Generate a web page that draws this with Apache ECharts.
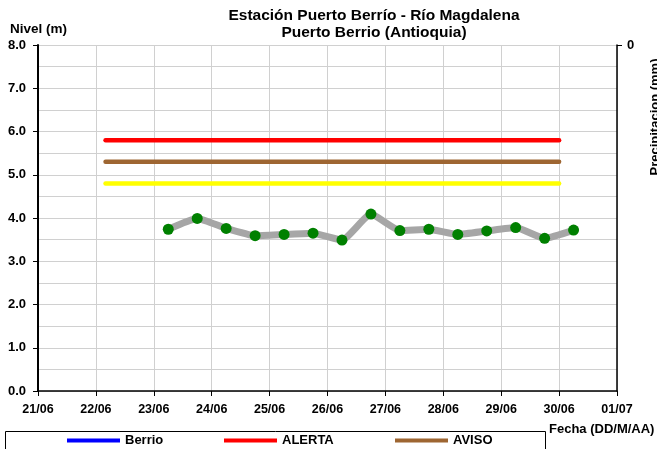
<!DOCTYPE html>
<html>
<head>
<meta charset="utf-8">
<script src="https://cdn.jsdelivr.net/npm/echarts@6/dist/echarts.min.js"></script>
<style>
html,body{margin:0;padding:0;background:#fff;}
#chart{width:657px;height:449px;}
</style>
</head>
<body>
<div id="chart"></div>
<script>
// ---- Data ----
const tickLabels = ['21/06','22/06','23/06','24/06','25/06','26/06','27/06','28/06','29/06','30/06','01/07'];
const times = ['23/06 06:00','23/06 18:00','24/06 06:00','24/06 18:00','25/06 06:00','25/06 18:00',
  '26/06 06:00','26/06 18:00','27/06 06:00','27/06 18:00','28/06 06:00','28/06 18:00',
  '29/06 06:00','29/06 18:00','30/06 06:00'];
const nivel = [3.74,3.99,3.76,3.59,3.62,3.65,3.49,4.09,3.71,3.74,3.62,3.70,3.78,3.53,3.72];
const thresholdSpan = ['22/06 04:00','30/06 00:00'];
const alerta = [5.8, 5.8];
const aviso = [5.3, 5.3];
const umbral = [4.8, 4.8];

// day offset from 21/06 00:00
function toDay(s){
  const [d,t] = s.split(' ');
  const [dd,mm] = d.split('/').map(Number);
  const [h,mi] = t.split(':').map(Number);
  const base = mm === 6 ? dd - 21 : dd + 30 - 21;
  return base + (h + mi/60)/24;
}
const FONT = 'Liberation Sans, Arial, sans-serif';
const nivelData = times.map((t,i)=>[toDay(t), nivel[i]]);
const span = thresholdSpan.map(toDay);
const mk = arr => span.map((x,i)=>[x, arr[i]]);

const chart = echarts.init(document.getElementById('chart'), null, {renderer:'canvas'});
const grid = '#d0d0d0';
const lineSeries = (name, data, color) => ({
  name, type:'line', data, symbol:'none', silent:true,
  lineStyle:{color, width:4.5, cap:'round'}, itemStyle:{color}, z:2
});
const legendBase = {
  top:434, itemWidth:53, itemHeight:4, padding:0, itemGap:5,
  textStyle:{fontFamily:FONT, fontWeight:'bold', fontSize:13, color:'#000'},
  selectedMode:false
};
chart.setOption({
  animation:false,
  backgroundColor:'#fff',
  grid:{left:38, right:40, top:45, bottom:58},
  xAxis:{
    type:'value', min:0, max:10, interval:1,
    axisLine:{show:true, lineStyle:{color:'#000', width:1.5}},
    axisTick:{show:true, length:5, lineStyle:{color:'#000'}},
    axisLabel:{formatter:v=>tickLabels[Math.round(v)], fontFamily:FONT, fontWeight:'bold', fontSize:12.5, color:'#000', margin:12},
    splitLine:{show:true, lineStyle:{color:grid, width:1}}
  },
  yAxis:[{
    type:'value', min:0, max:8, interval:1, splitNumber:8,
    axisLine:{show:true, lineStyle:{color:'#000', width:2}},
    axisTick:{show:true, length:5, lineStyle:{color:'#000'}},
    axisLabel:{formatter:v=>v.toFixed(1), fontFamily:FONT, fontWeight:'bold', fontSize:13, color:'#000', margin:12},
    splitLine:{show:true, lineStyle:{color:grid, width:1}},
    minorTick:{show:false, splitNumber:2},
    minorSplitLine:{show:true, lineStyle:{color:grid, width:1}}
  },{
    type:'value', position:'right', min:0, max:1, interval:1, inverse:true,
    axisLine:{show:true, lineStyle:{color:'#000', width:1.5}},
    axisTick:{show:true, length:5, customValues:[0], lineStyle:{color:'#000'}},
    axisLabel:{customValues:[0], formatter:v=>String(v), fontFamily:FONT, fontWeight:'bold', fontSize:13, color:'#000', margin:10},
    splitLine:{show:false}
  }],
  legend:[
    Object.assign({}, legendBase, {left:67, data:[{name:'Berrio', icon:'rect', itemStyle:{color:'#0000FF'}, lineStyle:{color:'#0000FF'}}]}),
    Object.assign({}, legendBase, {left:224, data:[{name:'ALERTA', icon:'rect', itemStyle:{color:'#FF0000'}}]}),
    Object.assign({}, legendBase, {left:395, data:[{name:'AVISO', icon:'rect', itemStyle:{color:'#9E6632'}}]})
  ],
  series:[
    lineSeries('ALERTA', mk(alerta), '#FF0000'),
    lineSeries('AVISO', mk(aviso), '#9E6632'),
    lineSeries('Umbral', mk(umbral), '#FFFF00'),
    {
      name:'Berrio', type:'line', data:nivelData, z:3, smooth:0.15,
      symbol:'circle', symbolSize:11,
      lineStyle:{color:'#A6A6A6', width:7},
      itemStyle:{color:'#008000'}
    }
  ],
  graphic:[
    {type:'text', x:374, y:16, style:{text:'Estación Puerto Berrío - Río Magdalena', font:'bold 15.5px '+FONT, fill:'#000', textAlign:'center', textVerticalAlign:'middle'}},
    {type:'text', x:374, y:33, style:{text:'Puerto Berrio (Antioquia)', font:'bold 15.5px '+FONT, fill:'#000', textAlign:'center', textVerticalAlign:'middle'}},
    {type:'text', x:10, y:29, style:{text:'Nivel (m)', font:'bold 13.5px '+FONT, fill:'#000', textAlign:'left', textVerticalAlign:'middle'}},
    {type:'text', x:549, y:429, style:{text:'Fecha (DD/M/AA)', font:'bold 13px '+FONT, fill:'#000', textAlign:'left', textVerticalAlign:'middle'}},
    {type:'text', x:655, y:117, rotation:Math.PI/2, style:{text:'Precipitacion (mm)', font:'bold 13px '+FONT, fill:'#000', textAlign:'center', textVerticalAlign:'middle'}},
    {type:'rect', shape:{x:5.5, y:431.5, width:540, height:40}, style:{fill:'none', stroke:'#000', lineWidth:1}, z:-1}
  ]
});
</script>
</body>
</html>
